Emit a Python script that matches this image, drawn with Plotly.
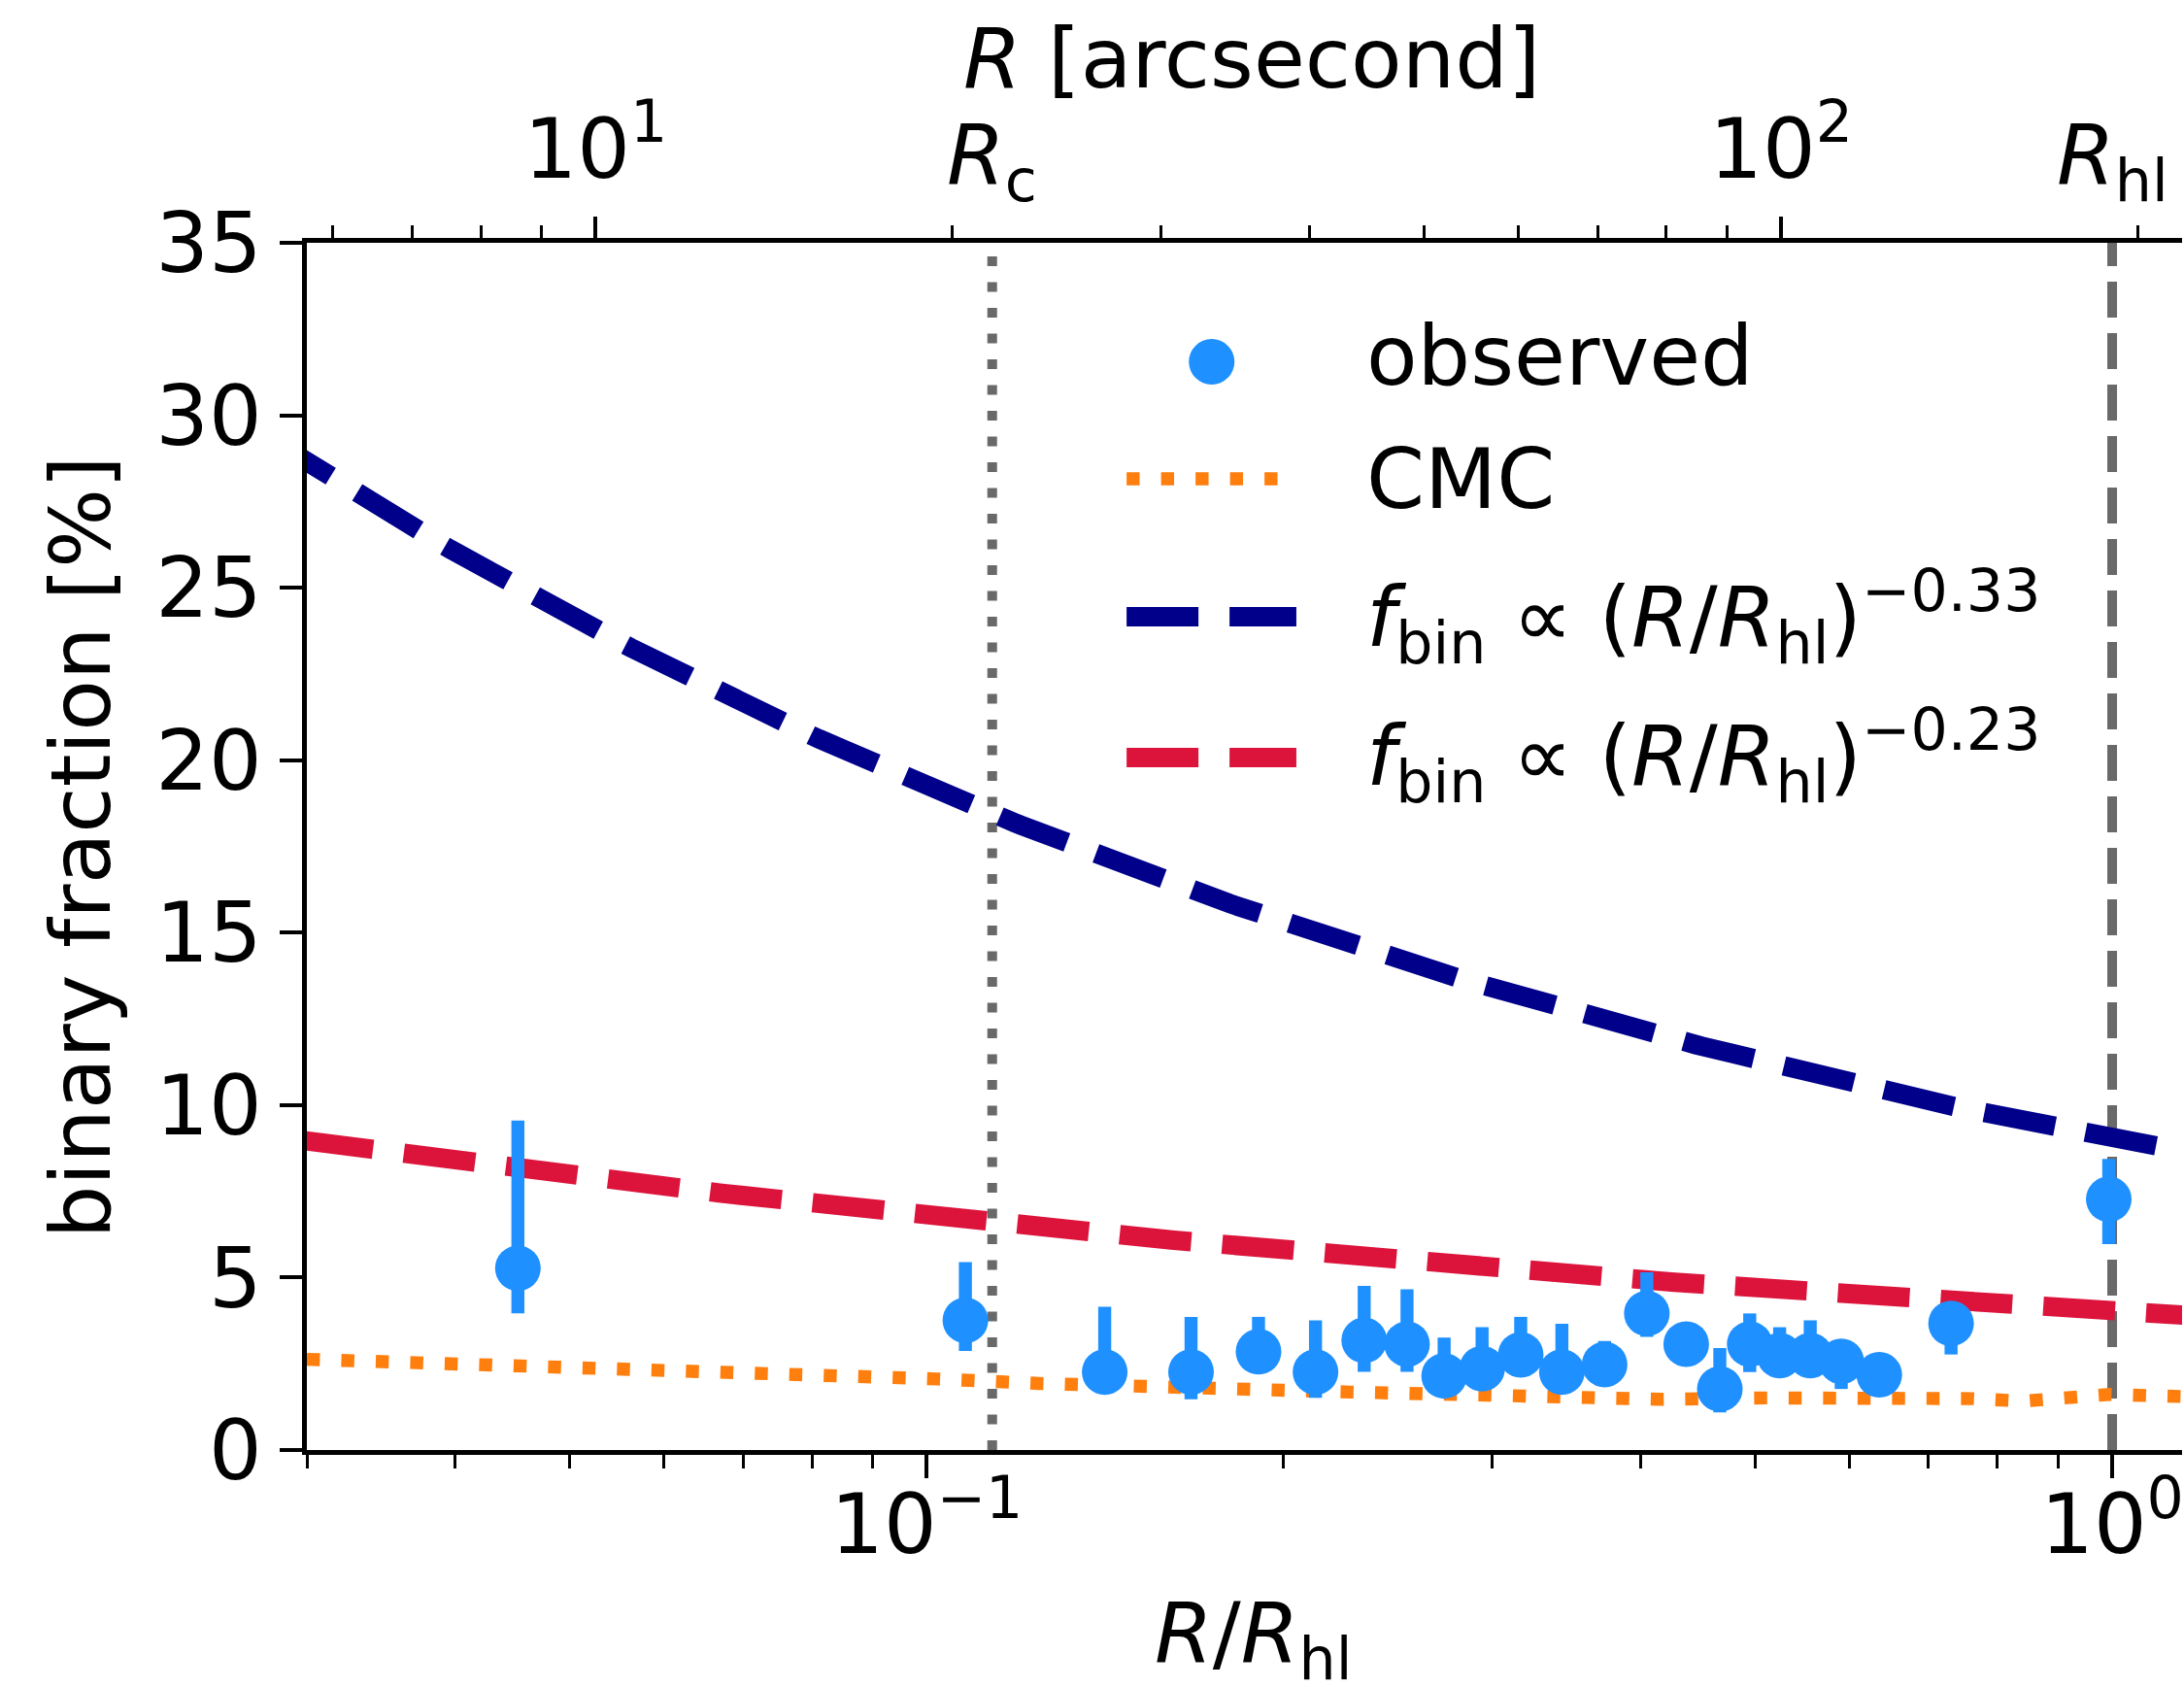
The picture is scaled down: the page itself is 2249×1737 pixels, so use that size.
import numpy as np
import plotly.graph_objects as go

# ---------------------------------------------------------------- data
# observed binary fraction in radial bins: R/R_hl, f_bin [%], upper / lower errors
r_obs = [0.0452, 0.1078, 0.1413, 0.1671, 0.1905, 0.2128, 0.2339, 0.2542,
         0.2732, 0.2941, 0.3170, 0.3434, 0.3731, 0.4050, 0.4372, 0.4667,
         0.4946, 0.5242, 0.5563, 0.5908, 0.6361, 0.7313, 0.9934]
f_obs = [5.27, 3.76, 2.26, 2.26, 2.85, 2.26, 3.18, 3.07,
         2.15, 2.36, 2.76, 2.26, 2.48, 3.96, 3.07, 1.77,
         3.07, 2.74, 2.74, 2.57, 2.18, 3.67, 7.27]
f_obs_err_hi = [4.28, 1.69, 1.89, 1.60, 1.01, 1.50, 1.58, 1.59,
                1.11, 1.20, 1.10, 1.40, 0.68, 1.19, 0.50, 1.19,
                0.89, 0.82, 1.02, 0.55, 0.50, 0.55, 1.17]
f_obs_err_lo = [1.31, 0.89, 0.60, 0.79, 0.60, 0.75, 0.91, 0.80,
                0.60, 0.60, 0.60, 0.60, 0.60, 0.68, 0.50, 0.68,
                0.81, 0.60, 0.60, 0.80, 0.55, 0.90, 1.30]

# CMC model profile
r_cmc = [0.0300, 0.0426, 0.0596, 0.0778, 0.1021, 0.1244, 0.1524, 0.1864,
         0.2278, 0.2977, 0.3646, 0.4164, 0.5104, 0.5822, 0.6669, 0.7625,
         0.8424, 0.9309, 0.9943, 1.1500]
f_cmc = [2.63, 2.48, 2.36, 2.20, 2.06, 1.93, 1.82, 1.73,
         1.68, 1.59, 1.49, 1.47, 1.51, 1.52, 1.57, 1.49,
         1.42, 1.52, 1.61, 1.55]

# power-law profiles f_bin = norm * (R/R_hl)^slope
steep_norm, steep_slope = 9.0, -0.33
shallow_norm, shallow_slope = 4.0, -0.23

# cluster radii
r_hl_arcsec = 190.2
r_c_arcsec = 21.6

# tick labels
bottom_tickvals = [0.1, 1.0]
bottom_ticktext = ["10<sup>\u22121</sup>", "10<sup>0</sup>"]
bottom_minor = [0.03, 0.04, 0.05, 0.06, 0.07, 0.08, 0.09,
                0.2, 0.3, 0.4, 0.5, 0.6, 0.7, 0.8, 0.9]
top_tickvals = [10, 100]
top_ticktext = ["10<sup>1</sup>", "10<sup>2</sup>"]
top_minor = [6, 7, 8, 9, 20, 30, 40, 50, 60, 70, 80, 90, 200]
y_tickvals = [0, 5, 10, 15, 20, 25, 30, 35]

legend_labels = ["observed", "CMC",
                 "<i>f</i><sub>bin</sub> \u221d (<i>R</i>/<i>R</i><sub>hl</sub>)<sup>\u22120.33</sup>",
                 "<i>f</i><sub>bin</sub> \u221d (<i>R</i>/<i>R</i><sub>hl</sub>)<sup>\u22120.23</sup>"]

# ---------------------------------------------------------------- styling
W, H = 2249, 1737
L, T, B = 316, 250, 1493          # plot area edges in pixels
PW, PH = W - L, B - T
DECADE_PX = 1222.0
FONT = "DejaVu Sans"
FS = 86

C_OBS = "#1e90ff"
C_CMC = "#ff7f0e"
C_STEEP = "#00008b"
C_SHALLOW = "#dc143c"
C_REF = "#696969"

x_lo = np.log10(0.03)
x_range = [x_lo, x_lo + PW / DECADE_PX]
arc_off = np.log10(r_hl_arcsec)
top_range = [x_range[0] + arc_off, x_range[1] + arc_off]


def px(x):
    return (x - L) / PW


def py(y):
    return (B - y) / PH


fig = go.Figure()

# reference radii (drawn in arcsec on the top axis, lowest layer)
fig.add_trace(go.Scatter(x=[r_c_arcsec, r_c_arcsec], y=[0, 35], mode="lines",
                         line=dict(color=C_REF, width=10, dash="10px,16.5px"),
                         xaxis="x", yaxis="y", hoverinfo="skip"))
fig.add_trace(go.Scatter(x=[r_hl_arcsec, r_hl_arcsec], y=[0, 35], mode="lines",
                         line=dict(color=C_REF, width=10, dash="37px,16px"),
                         xaxis="x", yaxis="y", hoverinfo="skip"))

# CMC profile
fig.add_trace(go.Scatter(x=r_cmc, y=f_cmc, mode="lines",
                         line=dict(color=C_CMC, width=13.4, dash="13.4px,22.1px"),
                         xaxis="x2", yaxis="y"))

# power laws
r_sh = np.logspace(np.log10(0.0297), 0.2, 300)
fig.add_trace(go.Scatter(x=r_sh, y=shallow_norm * r_sh ** shallow_slope, mode="lines",
                         line=dict(color=C_SHALLOW, width=20, dash="74px,32px"),
                         xaxis="x2", yaxis="y"))
r_st = np.logspace(np.log10(0.0279), 0.2, 300)
fig.add_trace(go.Scatter(x=r_st, y=steep_norm * r_st ** steep_slope, mode="lines",
                         line=dict(color=C_STEEP, width=20, dash="74px,32px"),
                         xaxis="x2", yaxis="y"))

# observed points
fig.add_trace(go.Scatter(x=r_obs, y=f_obs, mode="markers",
                         marker=dict(color=C_OBS, size=47, line=dict(width=0)),
                         error_y=dict(type="data", symmetric=False,
                                      array=f_obs_err_hi, arrayminus=f_obs_err_lo,
                                      color=C_OBS, thickness=13.4, width=0),
                         xaxis="x2", yaxis="y"))

# ---------------------------------------------------------------- legend
hx0, hx1 = px(1161), px(1336)
fig.add_trace(go.Scatter(x=[px(1248.7)], y=[py(372.5)], mode="markers",
                         marker=dict(color=C_OBS, size=47, line=dict(width=0)),
                         xaxis="x3", yaxis="y2"))
fig.add_trace(go.Scatter(x=[hx0, hx1], y=[py(493), py(493)], mode="lines",
                         line=dict(color=C_CMC, width=13.4, dash="13.4px,22.1px"),
                         xaxis="x3", yaxis="y2"))
fig.add_trace(go.Scatter(x=[hx0, hx1], y=[py(635), py(635)], mode="lines",
                         line=dict(color=C_STEEP, width=20, dash="74px,32px"),
                         xaxis="x3", yaxis="y2"))
fig.add_trace(go.Scatter(x=[hx0, hx1], y=[py(780), py(780)], mode="lines",
                         line=dict(color=C_SHALLOW, width=20, dash="74px,32px"),
                         xaxis="x3", yaxis="y2"))

annotations = []
for label, yc in zip(legend_labels, [366, 493, 635, 778]):
    annotations.append(dict(text=label, xref="paper", yref="paper",
                            x=px(1406), y=py(yc), xanchor="left", yanchor="middle",
                            showarrow=False, font=dict(family=FONT, size=FS, color="black")))

# top-axis radius labels
for label, val in [("<i>R</i><sub>c</sub>", r_c_arcsec), ("<i>R</i><sub>hl</sub>", r_hl_arcsec)]:
    annotations.append(dict(text=label, xref="x", yref="paper",
                            x=np.log10(val), y=py(223), xanchor="center", yanchor="bottom",
                            showarrow=False, font=dict(family=FONT, size=FS, color="black")))

# axis titles
annotations.append(dict(text="<i>R</i>/<i>R</i><sub>hl</sub>", xref="paper", yref="paper",
                        x=px(1292), y=py(1629), xanchor="center", yanchor="top",
                        showarrow=False, font=dict(family=FONT, size=FS, color="black")))
annotations.append(dict(text="<i>R</i> [arcsecond]", xref="paper", yref="paper",
                        x=px(1290), y=py(8), xanchor="center", yanchor="top",
                        showarrow=False, font=dict(family=FONT, size=FS, color="black")))
annotations.append(dict(text="binary fraction [%]", xref="paper", yref="paper",
                        x=px(83), y=py(872), xanchor="center", yanchor="middle",
                        textangle=-90, showarrow=False,
                        font=dict(family=FONT, size=FS, color="black")))

tickfont = dict(family=FONT, size=FS, color="black")

fig.update_layout(
    width=W, height=H,
    margin=dict(l=L, r=0, t=T, b=H - B, pad=0),
    paper_bgcolor="white", plot_bgcolor="white",
    showlegend=False,
    annotations=annotations,
    xaxis=dict(type="log", range=top_range, side="top", anchor="y",
               showgrid=False, zeroline=False,
               showline=True, linecolor="black", linewidth=5,
               ticks="outside", ticklen=22, tickwidth=4, tickcolor="black",
               tickmode="array", tickvals=top_tickvals, ticktext=top_ticktext,
               tickfont=tickfont, ticklabelstandoff=6, ticklabeloverflow="allow",
               minor=dict(tickmode="array", tickvals=top_minor, ticks="outside",
                          ticklen=13, tickwidth=3, tickcolor="black", showgrid=False)),
    xaxis2=dict(type="log", range=x_range, side="bottom", overlaying="x", anchor="y",
                showgrid=False, zeroline=False,
                showline=True, linecolor="black", linewidth=5,
                ticks="outside", ticklen=24, tickwidth=4, tickcolor="black",
                tickmode="array", tickvals=bottom_tickvals, ticktext=bottom_ticktext,
                tickfont=tickfont, ticklabelstandoff=-26, ticklabeloverflow="allow",
                minor=dict(tickmode="array", tickvals=bottom_minor, ticks="outside",
                           ticklen=14, tickwidth=3, tickcolor="black", showgrid=False)),
    xaxis3=dict(range=[0, 1], overlaying="x", anchor="y2", visible=False),
    yaxis=dict(range=[0, 35], showgrid=False, zeroline=False,
               showline=True, linecolor="black", linewidth=5,
               ticks="outside", ticklen=23, tickwidth=4, tickcolor="black",
               tickmode="array", tickvals=y_tickvals, tickfont=tickfont,
               ticklabelstandoff=1),
    yaxis2=dict(range=[0, 1], overlaying="y", anchor="x3", visible=False),
)

fig.write_html("out.html")
